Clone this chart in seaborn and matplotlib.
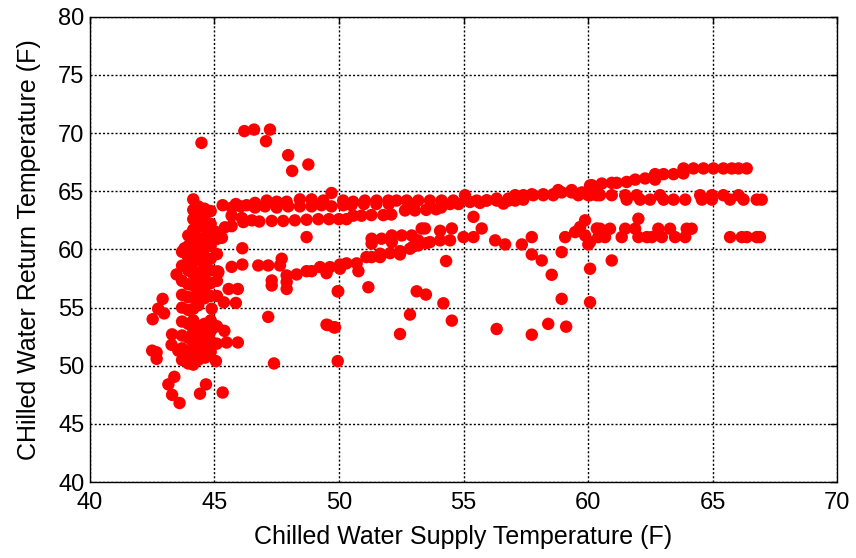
import numpy as np
import pandas as pd
import seaborn as sns
import matplotlib.pyplot as plt

# dense vertical cluster near 44 F supply
cluster_x = [43.7]*9 + [43.95]*11 + [44.15]*16 + [44.35]*14 + [44.6]*14 + [44.85]*12 + [45.1]*6
cluster_y = [59.8, 58.6, 57.3, 56.1, 55.0, 53.8, 52.6, 51.5, 50.5,
             61.2, 60.3, 59.3, 58.2, 57.0, 55.9, 54.8, 53.6, 52.4, 51.2, 50.2,
             64.3, 63.4, 62.6, 61.7, 60.8, 59.9, 58.9, 57.9, 56.9, 55.9, 54.9, 53.9, 52.9, 51.9, 50.9, 50.1,
             63.7, 62.9, 62.0, 61.0, 60.1, 59.1, 58.0, 57.0, 56.0, 55.2, 53.4, 52.5, 51.5, 50.5,
             63.5, 62.7, 61.9, 61.0, 60.2, 59.4, 58.5, 57.6, 56.7, 55.8, 53.6, 52.7, 51.8, 50.9,
             63.3, 62.2, 61.2, 60.3, 59.2, 58.2, 57.1, 56.0, 53.9, 53.0, 52.1, 51.2,
             60.9, 59.6, 58.1, 57.3, 56.0, 53.4]

# points around the cluster
edge_x = [42.52, 42.92, 42.74, 42.98, 42.5, 42.68, 42.68, 43.3, 43.28, 43.55, 43.15, 43.39, 43.3, 43.6,
          44.42, 44.66, 45.33, 43.48, 45.06, 44.62, 45.94, 45.49, 45.09, 45.4, 44.95, 45.86, 45.94, 45.57,
          45.38, 45.15, 44.89, 47.16, 47.39, 49.55, 49.8, 49.95, 49.95, 43.8]
edge_y = [54.0, 55.75, 54.9, 54.5, 51.3, 51.15, 50.6, 52.7, 51.8, 51.3, 48.4, 49.05, 47.5, 46.8,
          47.6, 48.4, 47.7, 57.85, 50.4, 50.7, 52.0, 52.0, 51.9, 53.0, 53.3, 55.4, 56.6, 56.6,
          55.45, 58.0, 54.9, 54.2, 50.2, 53.5, 53.3, 50.4, 56.4, 60.1]

# high outliers
high_x = [44.48, 46.2, 46.59, 47.07, 47.23, 47.96, 48.12, 48.77]
high_y = [69.16, 70.17, 70.3, 69.3, 70.3, 68.1, 66.75, 67.3]

# upper band (~64)
band_a_x = [45.86, 46.63, 47.1, 47.5, 47.9, 48.43, 48.9, 49.37, 49.7, 50.17, 50.57, 51.04, 51.51, 51.98,
            52.31, 52.72, 53.18, 53.65, 54.12, 54.59, 55.06, 55.53, 55.93, 56.33, 56.8, 57.07,
            45.33, 45.7, 46.05, 46.29, 46.63, 47.03, 47.5, 47.96, 48.43, 48.9, 49.3, 49.7, 50.17, 50.5,
            51.0, 51.5, 52.0, 53.0]
band_a_y = [63.9, 64.0, 64.2, 64.1, 64.1, 64.3, 64.3, 64.2, 64.85, 64.2, 64.1, 64.2, 64.2, 64.2,
            64.2, 64.2, 64.2, 64.2, 64.2, 64.2, 64.66, 64.2, 64.2, 64.2, 64.2, 64.2,
            63.8, 63.6, 63.7, 63.8, 63.6, 63.7, 63.6, 63.7, 63.7, 63.7, 63.8, 63.7, 63.8, 63.8,
            63.9, 63.9, 63.9, 63.9]

# second band (~62.5 rising to 64)
band_b_x = [45.06, 45.3, 45.42, 45.69, 45.69, 46.1, 46.16, 46.5, 46.8, 47.3, 47.76, 48.23, 48.7, 49.17,
            49.6, 50.0, 50.3, 50.57, 50.9, 51.3, 51.78, 52.1, 52.65, 53.05, 53.5, 53.9, 54.1, 54.46, 54.8]
band_b_y = [61.5, 61.0, 61.9, 62.0, 62.9, 62.7, 62.35, 62.5, 62.4, 62.45, 62.45, 62.5, 62.55, 62.6,
            62.6, 62.6, 62.6, 62.9, 62.9, 62.95, 62.95, 63.0, 63.35, 63.35, 63.4, 63.45, 63.6, 63.9, 63.9]

# band continuing at ~64.5 out to 67
band_c_x = [55.26, 55.66, 55.93, 56.33, 56.6, 56.8, 57.07, 57.4, 57.74, 58.2, 58.6, 58.8, 59.34, 59.61,
            60.08, 60.41, 57.4, 57.8, 58.2, 58.6, 58.94, 59.34, 59.75, 60.01, 60.35, 60.48, 60.95,
            61.49, 61.55, 61.95, 62.09, 62.49, 62.89, 63.03, 63.43, 63.9, 64.5, 64.57, 64.97, 64.97,
            65.43, 65.7, 66.04, 66.24, 66.77, 66.97]
band_c_y = [64.08, 64.0, 64.22, 64.37, 63.94, 64.37, 64.66, 64.66, 64.74, 64.74, 64.74, 65.1, 65.1, 64.66,
            64.66, 64.8, 64.28, 64.66, 64.66, 64.66, 64.9, 64.9, 64.9, 64.66, 64.66, 64.66, 64.66,
            64.66, 64.28, 64.66, 64.28, 64.28, 64.66, 64.28, 64.28, 64.28, 64.66, 64.28, 64.66, 64.28,
            64.66, 64.28, 64.66, 64.28, 64.28, 64.28]

# top rising band (65.5 -> 67)
band_d_x = [60.08, 60.15, 60.55, 60.95, 61.15, 61.55, 61.89, 62.29, 62.69, 62.69, 63.03, 63.43, 63.83,
            63.83, 64.23, 64.63, 65.03, 65.43, 65.77, 66.04, 66.37]
band_d_y = [65.5, 65.52, 65.66, 65.72, 65.72, 65.8, 66.0, 66.1, 66.47, 66.0, 66.47, 66.47, 66.96,
            66.53, 66.96, 66.96, 66.96, 66.96, 66.96, 66.96, 66.96]

# band at ~61
band_e_x = [48.7, 51.31, 51.31, 51.71, 52.12, 52.12, 52.52, 52.92, 53.32, 53.45, 53.65, 54.06, 54.06,
            54.53, 54.46, 55.0, 55.4, 55.73, 55.4, 56.27, 56.67, 57.34, 57.74, 59.08, 59.48, 59.68,
            59.88, 59.88, 60.08, 60.35, 60.48, 60.41, 60.68, 60.88, 61.35, 61.49, 61.89, 62.02, 62.02,
            62.36, 62.56, 62.82, 62.96, 63.29, 63.49, 63.9, 63.96, 64.16, 65.7, 66.17, 66.37, 66.77,
            66.9, 60.01]
band_e_y = [61.06, 60.92, 60.5, 60.92, 61.2, 60.63, 61.2, 61.2, 61.8, 61.8, 60.63, 61.6, 60.78,
            61.8, 60.78, 61.06, 61.06, 61.8, 62.8, 60.78, 60.43, 60.43, 61.06, 61.06, 61.49, 61.92,
            62.5, 61.2, 60.63, 61.8, 61.78, 61.06, 61.06, 61.78, 61.06, 61.78, 61.78, 62.64, 61.06,
            61.06, 61.06, 61.78, 61.06, 61.78, 61.06, 61.06, 61.78, 61.78, 61.06, 61.06, 61.06, 61.06,
            61.06, 60.43]

# lower band (~58 rising to 60.5)
band_f_x = [45.15, 45.69, 46.12, 46.12, 46.76, 47.16, 47.63, 47.7, 47.9, 47.9, 47.9, 47.3, 47.3, 48.3,
            48.7, 48.9, 49.24, 49.5, 49.64, 50.04, 50.04, 50.3, 50.71, 50.78, 51.1, 51.31, 51.65,
            51.65, 52.05, 52.45, 52.45, 52.85, 52.98, 53.18, 53.18, 53.52]
band_f_y = [58.1, 58.5, 58.7, 60.1, 58.62, 58.62, 58.62, 59.2, 57.76, 57.2, 56.6, 57.33, 56.9, 57.85,
            58.13, 58.13, 58.48, 57.96, 58.48, 58.7, 58.34, 58.8, 58.8, 58.13, 59.34, 59.34, 59.63,
            59.34, 59.68, 59.85, 59.57, 60.06, 60.26, 60.34, 60.78, 60.54]

# scattered points
scatter_x = [49.97, 51.18, 49.5, 49.84, 53.12, 53.49, 52.85, 52.45, 54.19, 54.53, 54.3, 56.33, 57.74,
             58.4, 59.12, 57.74, 58.14, 58.54, 58.94, 58.94, 60.08, 60.08, 60.95]
scatter_y = [56.4, 56.75, 53.53, 53.3, 56.4, 56.12, 54.4, 52.73, 55.37, 53.88, 59.0, 53.16, 52.67,
             53.6, 53.36, 59.57, 59.05, 57.82, 59.77, 55.75, 58.34, 55.46, 59.05]

supply = cluster_x + edge_x + high_x + band_a_x + band_b_x + band_c_x + band_d_x + band_e_x + band_f_x + scatter_x
ret = cluster_y + edge_y + high_y + band_a_y + band_b_y + band_c_y + band_d_y + band_e_y + band_f_y + scatter_y
df = pd.DataFrame({'supply': supply, 'return': ret})

sns.set_style('white')
plt.rcParams['font.family'] = ['Liberation Sans', 'DejaVu Sans']
plt.rcParams['text.color'] = 'black'
plt.rcParams['axes.labelcolor'] = 'black'

fig = plt.figure(figsize=(8.56, 5.58), dpi=100)
ax = fig.add_axes([0.105, 0.136, 0.873, 0.834])
sns.scatterplot(data=df, x='supply', y='return', color='#ff0000', s=80, edgecolor='none', linewidth=0, ax=ax, zorder=3)

ax.set_xlim(40, 70)
ax.set_ylim(40, 80)
ax.set_xticks(range(40, 71, 5))
ax.set_yticks(range(40, 81, 5))
ax.grid(True, color='black', linestyle=(0, (1.5, 1.5)), linewidth=1.0)
ax.set_axisbelow(True)
for sp in ax.spines.values():
    sp.set_color('black')
    sp.set_linewidth(1.0)
ax.tick_params(direction='in', length=5, width=1, top=True, right=True, labelsize=17, colors='black', pad=4)
ax.tick_params(axis='x', pad=7)
ax.set_xlabel('Chilled Water Supply Temperature (F)', fontsize=18, labelpad=8)
ax.set_ylabel('CHilled Water Return Temperature (F)', fontsize=18, labelpad=12)

fig.savefig('out.png', dpi=100)
